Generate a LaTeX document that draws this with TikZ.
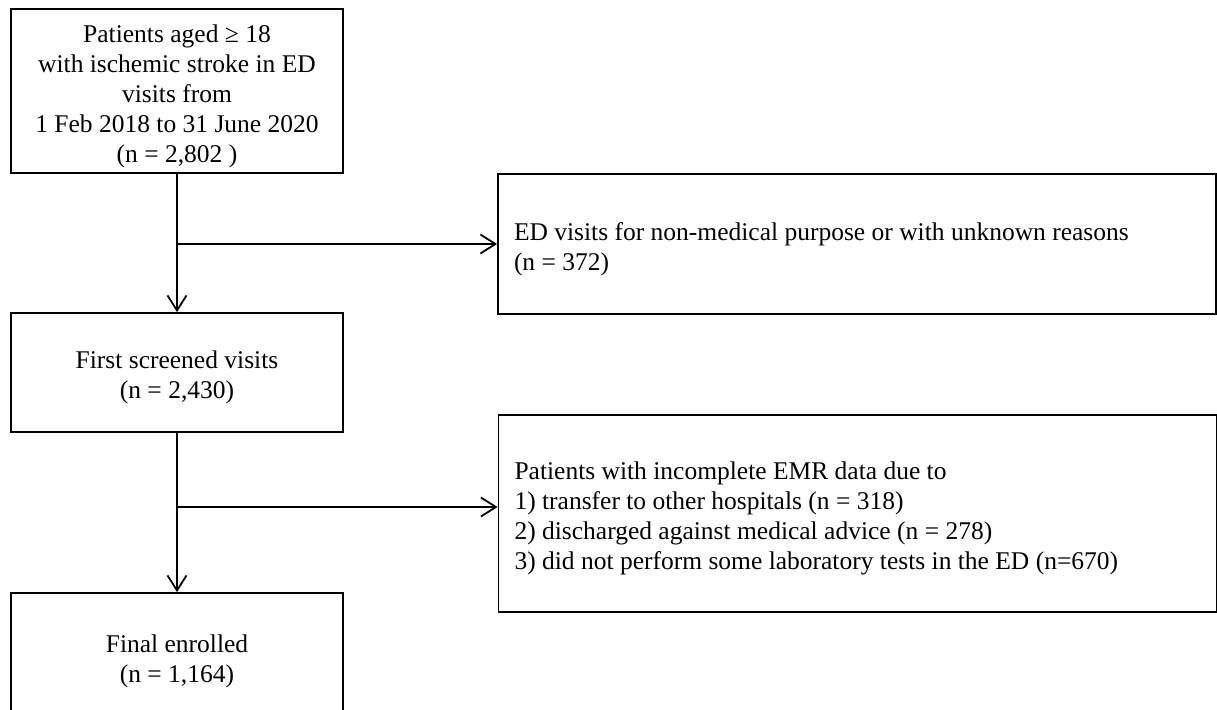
\documentclass[tikz,border=0pt]{standalone}
\usepackage{fontspec}
\setmainfont{Liberation Serif}
\usetikzlibrary{arrows.meta}
\newcommand\toppad{\rule{0pt}{28pt}}
\begin{document}
\begin{tikzpicture}[x=1pt,y=-1pt,
  box/.style={draw=black, line width=1.8pt, inner sep=0pt, font=\fontsize{25.5}{30}\selectfont},
  cbox/.style={box, align=center, minimum width=332pt},
  lbox/.style={box, align=flush left, text width=686pt, inner xsep=16pt, inner ysep=0pt},
  arr/.style={line width=1.8pt, -{Straight Barb[length=15pt,width=19pt]}}]
\useasboundingbox (0,0) rectangle (1217,709);
\fill[white] (0,0) rectangle (1217,709);
\node[cbox, minimum height=164pt] (a) at (177,91) {\toppad Patients aged ≥ 18\\with ischemic stroke in ED\\visits from\\1 Feb 2018 to 31 June 2020\\(n = 2,802 )};
\node[lbox, minimum height=140pt] (b) at (857,244) {\toppad ED visits for non-medical purpose or with unknown reasons\\(n = 372)};
\node[cbox, minimum height=119pt] (c) at (177,372.5) {\toppad First screened visits\\(n = 2,430)};
\node[lbox, minimum height=197pt] (d) at (857.5,513.5) {\toppad Patients with incomplete EMR data due to\\1) transfer to other hospitals (n = 318)\\2) discharged against medical advice (n = 278)\\3) did not perform some laboratory tests in the ED (n=670)};
\node[cbox, minimum height=127pt] (e) at (177,656.5) {\toppad Final enrolled\\(n = 1,164)};
\coordinate (j1) at (177,244);
\coordinate (j2) at (177,507);
\draw[arr] (a.south) -- (c.north);
\draw[arr] (j1) -- (b.west);
\draw[arr] (c.south) -- (e.north);
\draw[arr] (j2) -- (j2 -| d.west);
\end{tikzpicture}
\end{document}
